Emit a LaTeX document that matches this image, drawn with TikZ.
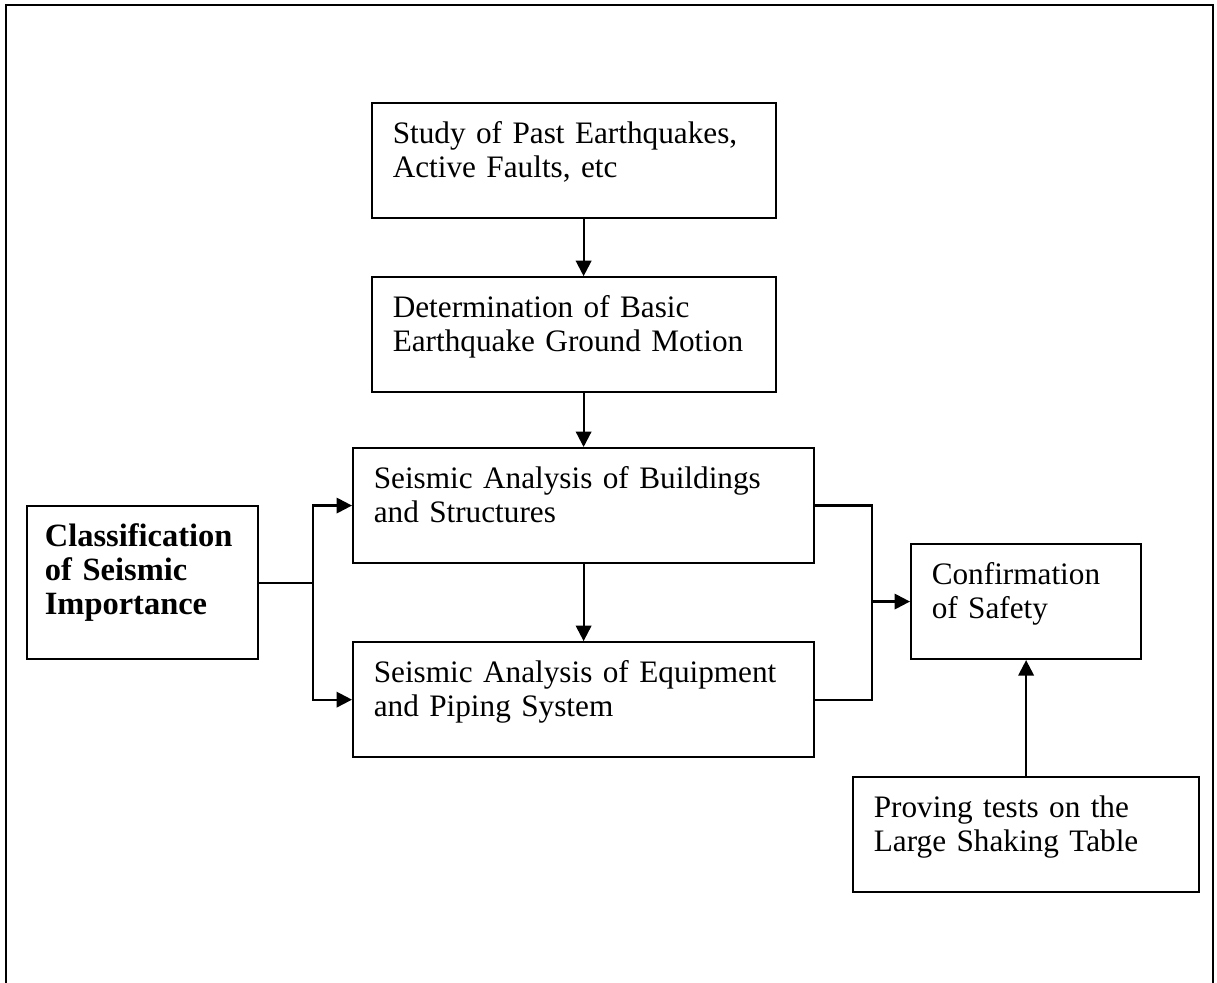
\documentclass[tikz,border=0pt]{standalone}
\usepackage{fontspec}
\setmainfont{Liberation Serif}
\usetikzlibrary{positioning,calc,arrows.meta}

\begin{document}
\begin{tikzpicture}[x=0.4065pt,y=-0.4065pt,>={Triangle[length=6.3pt,width=6.3pt]},line width=0.9pt,
    flowbox/.style={draw, inner xsep=8.4pt, inner ysep=0pt, align=left, text height=16.3pt, text depth=30.4pt, font=\fontsize{12.7pt}{13.8pt}\selectfont}]
                \useasboundingbox (0,0) rectangle (1217,982);
                \draw (6,990) -- (6,5) -- (1213,5) -- (1213,990);

                \node[flowbox, text width=147.4pt, anchor=north west] at (371,102) (study) {Study of Past Earthquakes,\\Active Faults, etc};
                \node[flowbox, text width=147.4pt, below=23.2pt of study] (determ) {Determination of Basic\\Earthquake Ground Motion};
                \node[flowbox, text width=170.6pt, anchor=north west] at (352,447) (build) {Seismic Analysis of Buildings\\and Structures};
                \node[flowbox, text width=170.6pt, below=31.3pt of build] (equip) {Seismic Analysis of Equipment\\and Piping System};
                \node[flowbox, text width=79.5pt, inner xsep=7.2pt, text depth=45.9pt, anchor=north west, font=\fontsize{13.2pt}{13.8pt}\selectfont\bfseries] at (26,505) (classif) {Classification\\of Seismic\\Importance};
                \node[flowbox, text width=76.7pt, anchor=north west] at (910,543) (confirm) {Confirmation\\of Safety};
                \node[flowbox, text width=123.8pt, below=47.2pt of confirm] (proving) {Proving tests on the\\Large Shaking Table};
                \coordinate[left=15.9pt of build.west] (a);
                \coordinate[right=23.2pt of build.east] (b);

                \draw[->] (study.south -| build) -- (determ.north -| build);
                \draw[->] (determ.south -| build) -- (build);
                \draw[->] (build) -- (equip);
                \draw (classif) -- (classif -| a);
                \draw[<->] (build) -| (a |- equip) -- (equip);
                \draw (build) -| (b |- equip) -- (equip);
                \draw[->] (b |- confirm) -- (confirm);
                \draw[->] (proving) -- (confirm);
            \end{tikzpicture}
\end{document}
